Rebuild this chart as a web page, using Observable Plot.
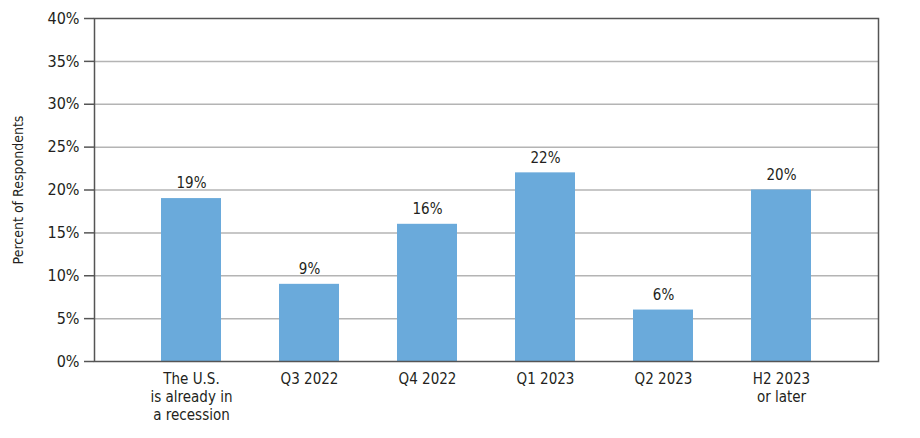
<!DOCTYPE html>
<html>
<head>
<meta charset="utf-8">
<script src="https://cdn.jsdelivr.net/npm/d3@7"></script>
<script src="https://cdn.jsdelivr.net/npm/@observablehq/plot@0.6"></script>
<style>
  html, body { margin: 0; padding: 0; background: #fff; }
  #chart svg { display: block; }
</style>
</head>
<body>
<div id="chart"></div>
<script>
const categories = ["The U.S.\nis already in\na recession", "Q3 2022", "Q4 2022", "Q1 2023", "Q2 2023", "H2 2023\nor later"];
const values = [19, 9, 16, 22, 6, 20];
const yTicks = [0, 5, 10, 15, 20, 25, 30, 35, 40];
const yLabel = "Percent of Respondents";

const data = categories.map((c, i) => ({category: c, value: values[i]}));
const font = "'DejaVu Sans Condensed', sans-serif";

const chart = Plot.plot({
  width: 920,
  height: 438,
  marginLeft: 94,
  marginRight: 42,
  marginTop: 18,
  marginBottom: 77,
  style: {fontFamily: font, fontSize: "15px", color: "#231f20", background: "#fff"},
  x: {domain: categories, paddingInner: 0.493, paddingOuter: 0.562, label: null},
  y: {domain: [0, 40], label: null},
  marks: [
    Plot.ruleY(yTicks.filter(d => d > 0 && d < 40), {stroke: "#b4b4b4", strokeWidth: 1.5}),
    Plot.barY(data, {x: "category", y: "value", fill: "#6aaadb"}),
    Plot.text(data, {x: "category", y: "value", text: d => d.value + "%", dy: -15, fontSize: 15, fill: "#231f20"}),
    Plot.frame({stroke: "#555", strokeWidth: 1.5}),
    Plot.axisY(yTicks, {tickSize: 10, tickPadding: 5, tickFormat: d => d + "%", label: null, fontSize: 16, stroke: "#555", strokeWidth: 1.5, fill: "#231f20"}),
    Plot.axisX({tickSize: 0, tickPadding: 10, label: null, fontSize: 15, lineHeight: 1.2, fill: "#231f20"}),
    Plot.text([yLabel], {frameAnchor: "left", textAnchor: "middle", rotate: -90, dx: -76, text: d => d, fontSize: 14, fill: "#231f20"})
  ]
});
document.getElementById("chart").appendChild(chart);
</script>
</body>
</html>
